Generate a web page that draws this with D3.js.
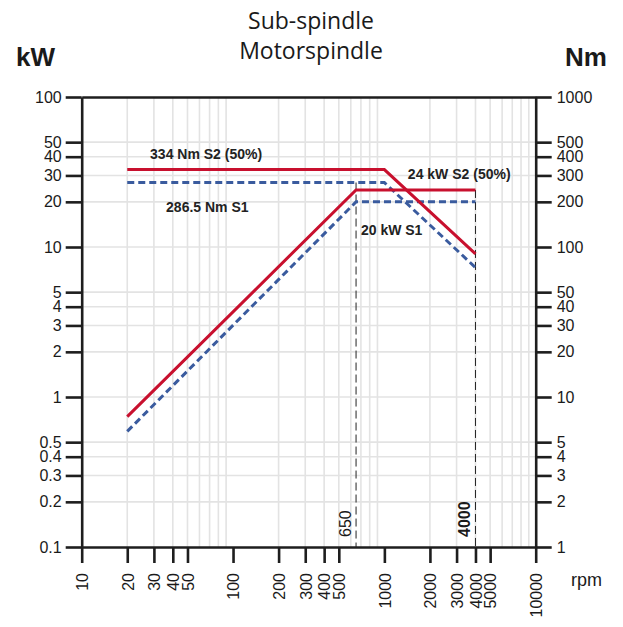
<!DOCTYPE html>
<html><head><meta charset="utf-8">
<script src="https://cdn.jsdelivr.net/npm/d3@7"></script>
<style>body{margin:0;background:#fff}</style>
</head><body><svg id="c" width="623" height="627"></svg>
<script>
// ---- data ----
const xTicks=[10,20,30,40,50,100,200,300,400,500,1000,2000,3000,4000,5000,10000];
const kwTicks=[0.1,0.2,0.3,0.4,0.5,1,2,3,4,5,10,20,30,40,50,100];
const nmTicks=[1,2,3,4,5,10,20,30,40,50,100,200,300,400,500,1000];
const powerRpm=[20,650,4000];
const s2Power=[0.74,24,24];
const s1Power=[0.59,20,20];
const torqueRpm=[20,1000,4000];
const s2Torque=[328,328,90];
const s1Torque=[269,269,73];
const markerRpm=[650,4000];
const markerTopKw=[26.9,24];
const markerLabels=["650","4000"];
const annotations=[
  {text:"334 Nm S2 (50%)",rpm:28.3,kw:38.5},
  {text:"286.5 Nm S1",rpm:36.1,kw:17.2},
  {text:"24 kW S2 (50%)",rpm:1430,kw:28.2},
  {text:"20 kW S1",rpm:700,kw:12.0}
];

const svg=d3.select("#c");
const x=d3.scaleLog().domain([10,10000]).range([81.7,535.7]);
const y=d3.scaleLog().domain([0.1,100]).range([547,97]);
const yNm=d3.scaleLog().domain([1,1000]).range([547,97]);
const AX="#1e1e1e", GRID="#e3e3e3", RED="#c8102e", BLUE="#3a5b9e";
const FONT="'Liberation Sans', Arial, sans-serif";

// grid
const xGrid=[];
[10,100,1000].forEach(d=>{for(let k=2;k<=9;k++)xGrid.push(d*k);});
const yGrid=[0.2,0.3,0.4,0.5,1,2,3,4,5,10,20,30,40,50];
const g=svg.append("g");
g.selectAll(".vg").data(xGrid).join("line")
  .attr("x1",d=>x(d)).attr("x2",d=>x(d)).attr("y1",y(100)).attr("y2",y(0.1))
  .attr("stroke",GRID).attr("stroke-width",1.6);
g.selectAll(".hg").data(yGrid).join("line")
  .attr("x1",x(10)).attr("x2",x(10000)).attr("y1",d=>y(d)).attr("y2",d=>y(d))
  .attr("stroke",GRID).attr("stroke-width",1.6);

// axes
function styleAxis(sel){
  sel.selectAll("path.domain").attr("stroke",AX).attr("stroke-width",2.6);
  sel.selectAll(".tick line").attr("stroke",AX).attr("stroke-width",2.6);
  sel.selectAll(".tick text").attr("fill","#1a1a1a").style("font-family",FONT).style("font-size","16px");
}
const fmtKw=d=>String(d);
const leftAx=svg.append("g").attr("transform",`translate(${x(10)},0)`)
  .call(d3.axisLeft(y).tickValues(kwTicks).tickFormat(fmtKw).tickSize(16).tickSizeOuter(0).tickPadding(4));
styleAxis(leftAx);
const rightAx=svg.append("g").attr("transform",`translate(${x(10000)},0)`)
  .call(d3.axisRight(yNm).tickValues(nmTicks).tickFormat(d=>String(d)).tickSize(16).tickSizeOuter(0).tickPadding(5));
styleAxis(rightAx);
const topAx=svg.append("g").attr("transform",`translate(0,${y(100)})`)
  .call(d3.axisTop(x).tickValues([]).tickSizeOuter(0));
styleAxis(topAx);
const bottomAx=svg.append("g").attr("transform",`translate(0,${y(0.1)})`)
  .call(d3.axisBottom(x).tickValues(xTicks).tickFormat(d=>String(d)).tickSize(16).tickSizeOuter(0));
styleAxis(bottomAx);
bottomAx.selectAll(".tick text")
  .attr("transform","translate(0,26) rotate(-90)")
  .attr("x",0).attr("y",0).attr("dy","0.36em")
  .attr("text-anchor","end");

// marker dashed lines
svg.selectAll(".mk").data(markerRpm).join("line")
  .attr("x1",d=>x(d)).attr("x2",d=>x(d))
  .attr("y1",(d,i)=>y(markerTopKw[i])).attr("y2",y(0.1))
  .attr("stroke","#222").attr("stroke-width",1).attr("stroke-dasharray","8,4");
svg.selectAll(".mkl").data(markerRpm).join("text")
  .attr("transform",d=>`translate(${x(d)-5.5},537) rotate(-90)`)
  .attr("text-anchor","start")
  .style("font-family",FONT).style("font-size","16px")
  .style("font-weight",(d,i)=>i===1?"bold":"normal").attr("fill","#1a1a1a")
  .text((d,i)=>markerLabels[i]);

// curves
const lineKw=d3.line().x(d=>x(d[0])).y(d=>y(d[1]));
const lineNm=d3.line().x(d=>x(d[0])).y(d=>yNm(d[1]));
const z=(a,b)=>a.map((v,i)=>[v,b[i]]);
svg.append("path").attr("d",lineNm(z(torqueRpm,s1Torque))).attr("fill","none")
  .attr("stroke",BLUE).attr("stroke-width",3).attr("stroke-dasharray","7,4");
svg.append("path").attr("d",lineKw(z(powerRpm,s1Power))).attr("fill","none")
  .attr("stroke",BLUE).attr("stroke-width",3).attr("stroke-dasharray","7,4");
svg.append("path").attr("d",lineNm(z(torqueRpm,s2Torque))).attr("fill","none")
  .attr("stroke",RED).attr("stroke-width",3);
svg.append("path").attr("d",lineKw(z(powerRpm,s2Power))).attr("fill","none")
  .attr("stroke",RED).attr("stroke-width",3);

// annotations
svg.selectAll(".ann").data(annotations).join("text")
  .attr("x",d=>x(d.rpm)).attr("y",d=>y(d.kw))
  .style("font-family",FONT).style("font-size","14px").style("font-weight","bold")
  .attr("fill","#222").text(d=>d.text);

// titles
const T="'Open Sans', 'Noto Sans', sans-serif";
svg.append("text").attr("x",311).attr("y",29).attr("text-anchor","middle")
  .style("font-family",T).style("font-size","23px").attr("fill","#1a1a1a").text("Sub-spindle");
svg.append("text").attr("x",311).attr("y",59).attr("text-anchor","middle")
  .style("font-family",T).style("font-size","23px").attr("fill","#1a1a1a").text("Motorspindle");
svg.append("text").attr("x",16).attr("y",66)
  .style("font-family",FONT).style("font-size","26px").style("font-weight","bold").attr("fill","#1a1a1a").text("kW");
svg.append("text").attr("x",565).attr("y",66)
  .style("font-family",FONT).style("font-size","26px").style("font-weight","bold").attr("fill","#1a1a1a").text("Nm");
svg.append("text").attr("x",571).attr("y",586)
  .style("font-family",FONT).style("font-size","18px").attr("fill","#1a1a1a").text("rpm");
</script></body></html>
